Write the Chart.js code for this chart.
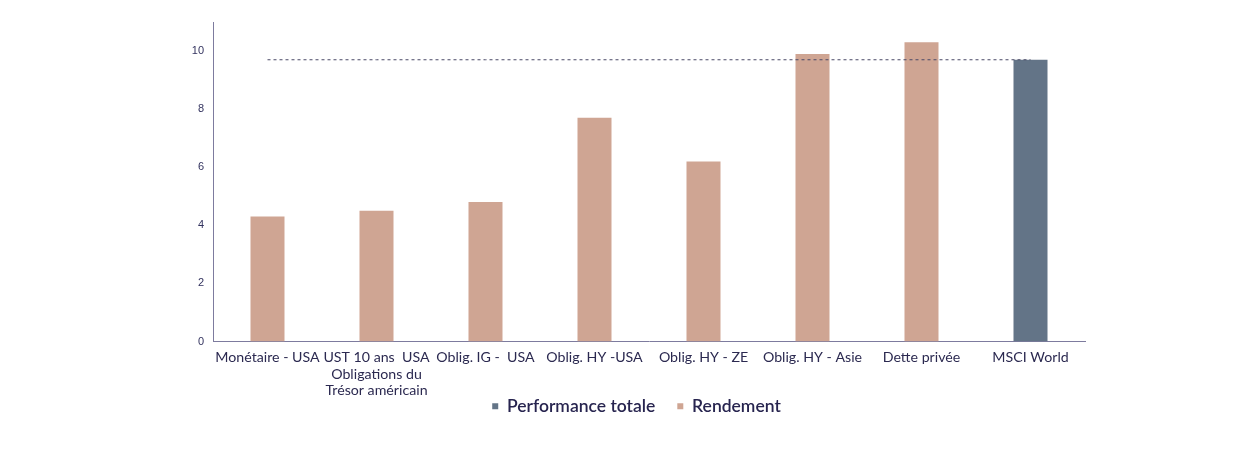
<!DOCTYPE html>
<html>
<head>
<meta charset="utf-8">
<script src="https://cdn.jsdelivr.net/npm/chart.js@4.4.1/dist/chart.umd.min.js"></script>
<style>
html,body{margin:0;padding:0;background:#fff;}
#wrap{width:1255px;height:460px;position:relative;}
</style>
</head>
<body>
<div id="wrap"><canvas id="c"></canvas></div>
<script>
const categories = [
  "Monétaire - USA",
  ["UST 10 ans  USA", "Obligations du", "Trésor américain"],
  "Oblig. IG -  USA",
  "Oblig. HY -USA",
  "Oblig. HY - ZE",
  "Oblig. HY - Asie",
  "Dette privée",
  "MSCI World"
];
const performanceTotale = [null, null, null, null, null, null, null, 9.7];
const rendement = [4.3, 4.5, 4.8, 7.7, 6.2, 9.9, 10.3, null];
const referenceLine = [9.7, 9.7, 9.7, 9.7, 9.7, 9.7, 9.7, 9.7];
const yTicks = [0, 2, 4, 6, 8, 10];

const textFont = "Lato, 'Noto Sans', sans-serif";

const legendShift = {
  id: 'legendShift',
  afterLayout(chart) {
    const lg = chart.legend;
    if (!lg) return;
    lg.top -= 24; lg.bottom -= 24;
    lg.left += 19; lg.right += 19;
  }
};

new Chart(document.getElementById('c'), {
  type: 'bar',
  data: {
    labels: categories,
    datasets: [
      {
        label: 'Performance totale',
        data: performanceTotale,
        backgroundColor: '#637487',
        skipNull: true,
        barPercentage: 0.39,
        categoryPercentage: 0.8,
        order: 1
      },
      {
        label: 'Rendement',
        data: rendement,
        backgroundColor: '#cfa593',
        skipNull: true,
        barPercentage: 0.39,
        categoryPercentage: 0.8,
        order: 1
      },
      {
        type: 'line',
        label: 'ref',
        data: referenceLine,
        borderColor: '#4a4866',
        borderWidth: 1,
        borderDash: [3, 3],
        pointRadius: 0,
        fill: false,
        order: 0
      }
    ]
  },
  plugins: [legendShift],
  options: {
    responsive: true,
    maintainAspectRatio: false,
    animation: false,
    layout: { padding: { left: 150, right: 170, top: 22, bottom: 11 } },
    plugins: {
      tooltip: { enabled: false },
      legend: {
        position: 'bottom',
        labels: {
          filter: (item) => item.text !== 'ref',
          boxWidth: 6,
          boxHeight: 6,
          padding: 22,
          color: '#27244f',
          font: { family: textFont, size: 17.5, weight: '600' }
        }
      }
    },
    scales: {
      x: {
        grid: { display: false, drawTicks: false },
        border: { display: true, color: '#7d7b9e', width: 1 },
        ticks: {
          color: '#2b2950',
          padding: 8,
          maxRotation: 0,
          autoSkip: false,
          font: { family: textFont, size: 14.2, lineHeight: 1.15 }
        },
        afterFit: (s) => { s.height = 58; }
      },
      y: {
        min: 0,
        max: 11,
        grid: { display: false, drawTicks: false },
        border: { display: true, color: '#7d7b9e', width: 1 },
        afterBuildTicks: (s) => { s.ticks = yTicks.map(v => ({ value: v })); },
        ticks: {
          color: '#33335f',
          padding: 9,
          font: { family: "'Liberation Sans', Arial, sans-serif", size: 11 }
        },
        afterFit: (s) => { s.width = 63; }
      }
    }
  }
});
</script>
</body>
</html>
